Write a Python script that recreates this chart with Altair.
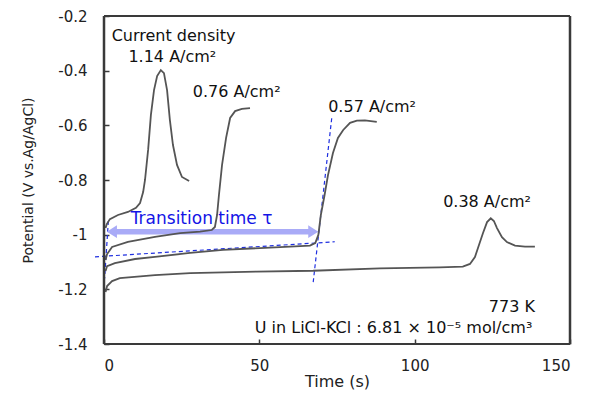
import altair as alt
import pandas as pd

# ---- data ----
t_114 = [0.5, 0.9, 1.9, 4.5, 7.7, 10.3, 11.6, 12.6, 13.2, 14.2, 15.1, 16.1, 17.1, 18.3, 19.3, 20.3, 21.2, 22.2, 23.5, 25.1, 27.4]
v_114 = [-0.976, -0.961, -0.943, -0.928, -0.917, -0.902, -0.884, -0.844, -0.800, -0.69, -0.562, -0.471, -0.420, -0.398, -0.409, -0.471, -0.580, -0.672, -0.745, -0.789, -0.804]

t_076 = [0.5, 1.0, 2.6, 7.7, 16.4, 24.5, 30.9, 34.7, 35.7, 36.4, 37.0, 38.0, 39.3, 40.6, 42.2, 44.4, 47.0]
v_076 = [-1.093, -1.071, -1.045, -1.026, -1.008, -0.994, -0.989, -0.983, -0.972, -0.928, -0.855, -0.745, -0.646, -0.573, -0.548, -0.540, -0.537]

t_057 = [0.5, 1.0, 3.5, 10.0, 16.4, 27.7, 38.3, 50.2, 59.9, 66.3, 68.0, 69.0, 69.8, 71.0, 72.1, 73.7, 75.3, 77.0, 79.2, 81.4, 84.0, 87.8]
v_057 = [-1.133, -1.115, -1.104, -1.089, -1.081, -1.067, -1.056, -1.049, -1.044, -1.040, -1.031, -1.001, -0.928, -0.855, -0.782, -0.701, -0.646, -0.617, -0.591, -0.583, -0.582, -0.587]

t_038 = [0.5, 1.0, 2.6, 5.1, 16.4, 27.7, 49.1, 67.3, 88.8, 108.1, 115.5, 117.8, 119.4, 120.7, 122.0, 123.3, 124.5, 125.5, 126.5, 128.1, 129.7, 132.3, 135.5, 138.7]
v_038 = [-1.210, -1.188, -1.170, -1.159, -1.148, -1.141, -1.135, -1.132, -1.123, -1.120, -1.117, -1.107, -1.082, -1.038, -0.994, -0.954, -0.940, -0.950, -0.976, -1.009, -1.027, -1.040, -1.044, -1.044]

# blue dashed construction lines (two points each)
dash_names = ["base", "rise", "start"]
dash_t = [[-2.9, 74.3], [73.3, 67.3], [1.4, 0.2]]
dash_v = [[-1.081, -1.026], [-0.574, -1.178], [-0.950, -1.160]]

# transition-time arrow
arrow_t = [0.9, 69.0]
arrow_v = -0.989

# annotations
label_text = ["Current density", "1.14 A/cm\u00b2", "0.76 A/cm\u00b2", "0.57 A/cm\u00b2", "0.38 A/cm\u00b2",
              "773 K", "U in LiCl-KCl : 6.81 \u00d7 10\u207b\u2075 mol/cm\u00b3"]
label_t = [22.4, 22.0, 42.7, 86.3, 123.3, 131.3, 93.2]
label_v = [-0.290, -0.367, -0.495, -0.550, -0.898, -1.282, -1.361]

tau_text = ["Transition time \u03c4"]
tau_t = [31.4]
tau_v = [-0.962]

x_ticks = [0, 50, 100, 150]
y_ticks = [-1.4, -1.2, -1.0, -0.8, -0.6, -0.4, -0.2]
x_domain = [0, 150]
y_domain = [-1.4, -0.2]

# ---- tables ----
rows = []
for name, ts, vs in [("1.14", t_114, v_114), ("0.76", t_076, v_076), ("0.57", t_057, v_057), ("0.38", t_038, v_038)]:
    for i, (t, v) in enumerate(zip(ts, vs)):
        rows.append({"series": name, "t": t, "v": v, "i": i})
curves = pd.DataFrame(rows)

drows = []
for name, ts, vs in zip(dash_names, dash_t, dash_v):
    for i, (t, v) in enumerate(zip(ts, vs)):
        drows.append({"series": name, "t": t, "v": v, "i": i})
dashes = pd.DataFrame(drows)

arrow_df = pd.DataFrame({"t": arrow_t, "v": [arrow_v, arrow_v]})
shaft_df = pd.DataFrame({"t": [arrow_t[0] + 2], "t2": [arrow_t[1] - 2], "v": [arrow_v]})
labels = pd.DataFrame({"label": label_text, "t": label_t, "v": label_v})
tau_df = pd.DataFrame({"label": tau_text, "t": tau_t, "v": tau_v})
frame_x = pd.DataFrame({"t": x_domain})
frame_y = pd.DataFrame({"v": y_domain})

FONT = "DejaVu Sans"
FRAME = "#3a3a3a"
xs = alt.Scale(domain=x_domain, nice=False, zero=False)
ys = alt.Scale(domain=y_domain, nice=False, zero=False)

# axes shifted 5px inward so that their ticks point into the plot
X = alt.X("t:Q", scale=xs, axis=alt.Axis(
    values=x_ticks, title="Time (s)", grid=False, domain=False,
    offset=-5, tickSize=5, tickColor=FRAME, tickWidth=1.5,
    labelPadding=14, labelFont=FONT, labelFontSize=15, labelColor="#222",
    titleFont=FONT, titleFontSize=16, titleFontWeight="normal", titleColor="#222",
    titleY=42, titleBaseline="middle"))
Y = alt.Y("v:Q", scale=ys, axis=alt.Axis(
    values=y_ticks, labelExpr="'' + datum.value", title="Potential (V vs.Ag/AgCl)",
    grid=False, domain=False,
    offset=-5, tickSize=5, tickColor=FRAME, tickWidth=1.5,
    labelPadding=17, labelFont=FONT, labelFontSize=15, labelColor="#222",
    titleFont=FONT, titleFontSize=14, titleFontWeight="normal", titleColor="#222",
    titleX=-81, titleY=164, titleBaseline="middle", titleAlign="center", titleAngle=-90))

# plot frame
frame_v = alt.Chart(frame_x).mark_rule(color=FRAME, strokeWidth=2.5).encode(x=X)
frame_h = alt.Chart(frame_y).mark_rule(color=FRAME, strokeWidth=2).encode(y=Y)

lines = alt.Chart(curves).mark_line(color="#555555", strokeWidth=1.8).encode(
    x=X, y=Y, detail="series:N", order="i:Q")

dash = alt.Chart(dashes).mark_line(color="#1f2fe0", strokeWidth=1.2, strokeDash=[4, 3], clip=False).encode(
    x=X, y=Y, detail="series:N", order="i:Q")

ARROW = "#a9abf7"
shaft = alt.Chart(shaft_df).mark_rule(color=ARROW, strokeWidth=5.5).encode(x=X, x2="t2:Q", y=Y)
head_l = alt.Chart(arrow_df.iloc[[0]]).mark_point(
    shape="M 0,0 L 1.6,-1 L 1.6,1 Z", filled=True, color=ARROW, opacity=1, size=160).encode(x=X, y=Y)
head_r = alt.Chart(arrow_df.iloc[[1]]).mark_point(
    shape="M 0,0 L -1.6,-1 L -1.6,1 Z", filled=True, color=ARROW, opacity=1, size=160).encode(x=X, y=Y)

text = alt.Chart(labels).mark_text(font=FONT, fontSize=16, color="#111", align="center",
                                   baseline="alphabetic").encode(x=X, y=Y, text="label:N")
tau = alt.Chart(tau_df).mark_text(font=FONT, fontSize=17, color="#1414e6", align="center",
                                  baseline="alphabetic").encode(x=X, y=Y, text="label:N")

chart = alt.layer(dash, shaft, head_l, head_r, lines, text, tau, frame_v, frame_h).properties(
    width=466, height=328,
    background="white",
    autosize=alt.AutoSizeParams(type="none"),
    padding={"left": 96, "top": 8, "right": 16, "bottom": 47},
).configure_view(stroke=None)

chart.save("out.html", embed_options={"renderer": "svg", "actions": False})
